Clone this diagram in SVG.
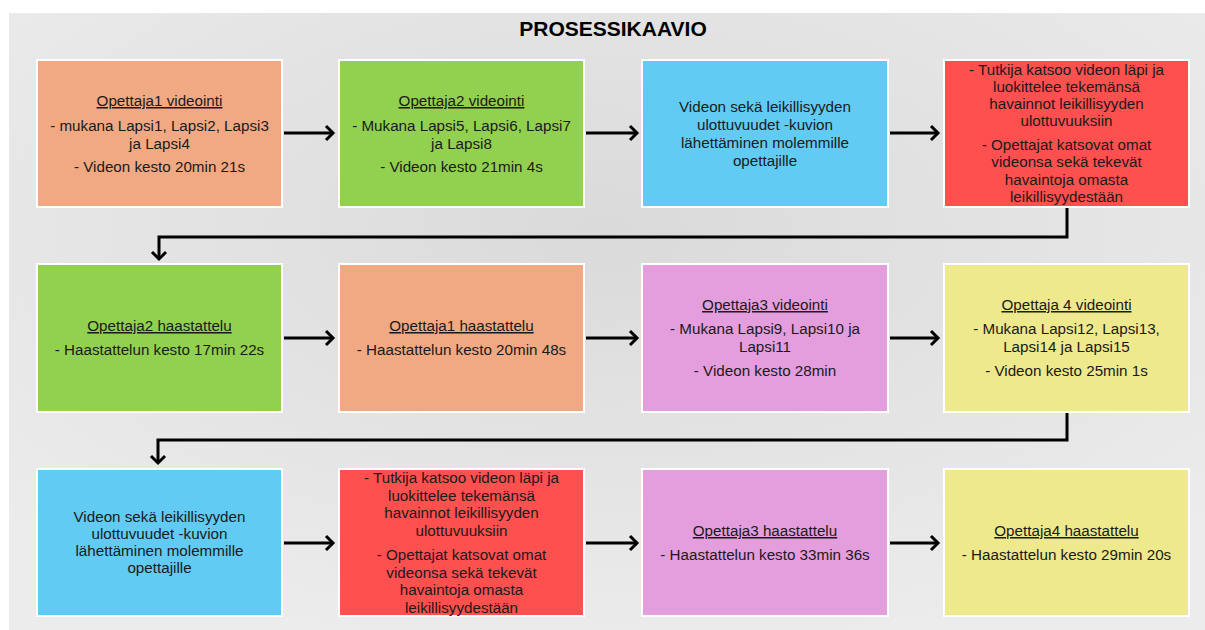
<svg xmlns="http://www.w3.org/2000/svg" width="1205" height="630" viewBox="0 0 1205 630">
<style>
.box{stroke:#ffffff;stroke-width:2}
.t{font-family:"Liberation Sans",Arial,sans-serif;font-size:15.2px;fill:#1a1a1a;text-anchor:middle}
.u{text-decoration:underline}
.title{font-family:"Liberation Sans",Arial,sans-serif;font-size:21px;font-weight:bold;fill:#000;text-anchor:middle}
.c{fill:none;stroke:#000;stroke-width:3}
</style>
<defs>
<radialGradient id="bg" cx="50%" cy="35%" r="70%">
<stop offset="0" stop-color="#dadada"/>
<stop offset="1" stop-color="#ececec"/>
</radialGradient>
<marker id="ah" markerUnits="userSpaceOnUse" markerWidth="20" markerHeight="20" viewBox="-10 -10 20 20" refX="0" refY="0" orient="auto" overflow="visible">
<path d="M-7,-7 L0,0 L-7,7" fill="none" stroke="#000" stroke-width="3"/>
</marker>
</defs>
<rect x="0" y="0" width="1205" height="630" fill="#ffffff"/>
<rect x="9" y="13" width="1196" height="617" fill="url(#bg)"/>
<text class="title" x="613" y="36">PROSESSIKAAVIO</text>

<g id="connectors">
<path class="c" d="M284,133 H333" marker-end="url(#ah)"/>
<path class="c" d="M586,133 H637" marker-end="url(#ah)"/>
<path class="c" d="M890,133 H938" marker-end="url(#ah)"/>
<path class="c" d="M1067,208 V237 H159 V259" marker-end="url(#ah)"/>
<path class="c" d="M284,338 H333" marker-end="url(#ah)"/>
<path class="c" d="M586,338 H637" marker-end="url(#ah)"/>
<path class="c" d="M890,338 H938" marker-end="url(#ah)"/>
<path class="c" d="M1067,413 V440 H158 V463" marker-end="url(#ah)"/>
<path class="c" d="M284,543 H333" marker-end="url(#ah)"/>
<path class="c" d="M586,543 H637" marker-end="url(#ah)"/>
<path class="c" d="M890,543 H938" marker-end="url(#ah)"/>
</g>

<g id="n1">
<rect class="box" x="37" y="60" width="245" height="147" fill="#F1A983"/>
<text class="t u" x="159.5" y="106">Opettaja1 videointi</text>
<text class="t" x="159.5" y="131">- mukana Lapsi1, Lapsi2, Lapsi3</text>
<text class="t" x="159.5" y="149">ja Lapsi4</text>
<text class="t" x="159.5" y="172">- Videon kesto 20min 21s</text>
</g>
<g id="n2">
<rect class="box" x="339" y="60" width="245" height="147" fill="#92D050"/>
<text class="t u" x="461.5" y="106">Opettaja2 videointi</text>
<text class="t" x="461.5" y="131">- Mukana Lapsi5, Lapsi6, Lapsi7</text>
<text class="t" x="461.5" y="149">ja Lapsi8</text>
<text class="t" x="461.5" y="172">- Videon kesto 21min 4s</text>
</g>
<g id="n3">
<rect class="box" x="642" y="60" width="246" height="147" fill="#61CBF4"/>
<text class="t" x="765" y="112">Videon sekä leikillisyyden</text>
<text class="t" x="765" y="130">ulottuvuudet -kuvion</text>
<text class="t" x="765" y="148">lähettäminen molemmille</text>
<text class="t" x="765" y="166">opettajille</text>
</g>
<g id="n4">
<rect class="box" x="944" y="60" width="245" height="147" fill="#FF5050"/>
<text class="t" x="1066.5" y="75">- Tutkija katsoo videon läpi ja</text>
<text class="t" x="1066.5" y="92">luokittelee tekemänsä</text>
<text class="t" x="1066.5" y="109">havainnot leikillisyyden</text>
<text class="t" x="1066.5" y="126">ulottuvuuksiin</text>
<text class="t" x="1066.5" y="150">- Opettajat katsovat omat</text>
<text class="t" x="1066.5" y="167">videonsa sekä tekevät</text>
<text class="t" x="1066.5" y="185">havaintoja omasta</text>
<text class="t" x="1066.5" y="202">leikillisyydestään</text>
</g>

<g id="n5">
<rect class="box" x="37" y="264" width="245" height="148" fill="#92D050"/>
<text class="t u" x="159.5" y="331">Opettaja2 haastattelu</text>
<text class="t" x="159.5" y="355">- Haastattelun kesto 17min 22s</text>
</g>
<g id="n6">
<rect class="box" x="339" y="264" width="245" height="148" fill="#F1A983"/>
<text class="t u" x="461.5" y="331">Opettaja1 haastattelu</text>
<text class="t" x="461.5" y="355">- Haastattelun kesto 20min 48s</text>
</g>
<g id="n7">
<rect class="box" x="642" y="264" width="246" height="148" fill="#E49EDD"/>
<text class="t u" x="765" y="310">Opettaja3 videointi</text>
<text class="t" x="765" y="334">- Mukana Lapsi9, Lapsi10 ja</text>
<text class="t" x="765" y="352">Lapsi11</text>
<text class="t" x="765" y="376">- Videon kesto  28min</text>
</g>
<g id="n8">
<rect class="box" x="944" y="264" width="245" height="148" fill="#EEE98C"/>
<text class="t u" x="1066.5" y="310">Opettaja 4 videointi</text>
<text class="t" x="1066.5" y="334">- Mukana Lapsi12, Lapsi13,</text>
<text class="t" x="1066.5" y="352">Lapsi14 ja Lapsi15</text>
<text class="t" x="1066.5" y="376">- Videon kesto 25min 1s</text>
</g>

<g id="n9">
<rect class="box" x="37" y="469" width="245" height="147" fill="#61CBF4"/>
<text class="t" x="159.5" y="522">Videon sekä leikillisyyden</text>
<text class="t" x="159.5" y="539">ulottuvuudet -kuvion</text>
<text class="t" x="159.5" y="556">lähettäminen molemmille</text>
<text class="t" x="159.5" y="573">opettajille</text>
</g>
<g id="n10">
<rect class="box" x="339" y="469" width="245" height="147" fill="#FF5050"/>
<text class="t" x="461.5" y="483">- Tutkija katsoo videon läpi ja</text>
<text class="t" x="461.5" y="501">luokittelee tekemänsä</text>
<text class="t" x="461.5" y="518">havainnot leikillisyyden</text>
<text class="t" x="461.5" y="536">ulottuvuuksiin</text>
<text class="t" x="461.5" y="560">- Opettajat katsovat omat</text>
<text class="t" x="461.5" y="578">videonsa sekä tekevät</text>
<text class="t" x="461.5" y="595">havaintoja omasta</text>
<text class="t" x="461.5" y="613">leikillisyydestään</text>
</g>
<g id="n11">
<rect class="box" x="642" y="469" width="246" height="147" fill="#E49EDD"/>
<text class="t u" x="765" y="536">Opettaja3 haastattelu</text>
<text class="t" x="765" y="560">- Haastattelun kesto 33min 36s</text>
</g>
<g id="n12">
<rect class="box" x="944" y="469" width="245" height="147" fill="#EEE98C"/>
<text class="t u" x="1066.5" y="536">Opettaja4 haastattelu</text>
<text class="t" x="1066.5" y="560">- Haastattelun kesto 29min 20s</text>
</g>
</svg>
